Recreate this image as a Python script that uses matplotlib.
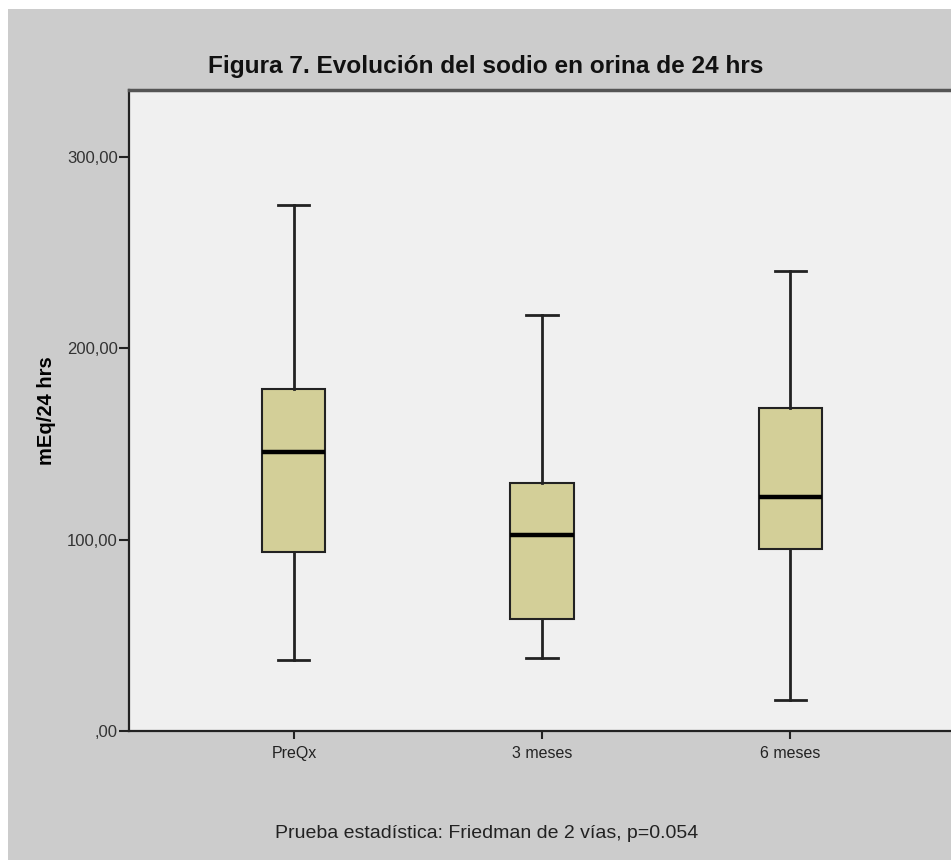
import matplotlib
matplotlib.use("Agg")
import matplotlib.pyplot as plt
from matplotlib.patches import Rectangle

# Five-number summaries of 24 h urinary sodium (mEq/24 hrs)
categories = ["PreQx", "3 meses", "6 meses"]
whisker_low = [37.0, 38.0, 16.0]
q1 = [93.5, 58.5, 95.0]
median = [145.8, 102.5, 122.3]
q3 = [178.8, 129.6, 168.8]
whisker_high = [275.0, 217.5, 240.5]
y_ticks = [0, 100, 200, 300]
y_tick_labels = [",00", "100,00", "200,00", "300,00"]

plt.rcParams["font.family"] = ["Liberation Sans", "DejaVu Sans"]

W, H = 951, 860
fig = plt.figure(figsize=(W / 100, H / 100), dpi=100, facecolor="white")

# gray chart frame behind the plot area
fig.patches.append(Rectangle((8 / W, 0), 1, 1 - 9 / H, transform=fig.transFigure,
                             facecolor="#cccccc", edgecolor="none", zorder=-5))

ax = fig.add_axes([129 / W, 129 / H, 826 / W, 641 / H])
ax.set_zorder(1)
ax.set_facecolor("#f0f0f0")

stats = []
for i, c in enumerate(categories):
    stats.append(dict(label=c, whislo=whisker_low[i], q1=q1[i], med=median[i],
                      q3=q3[i], whishi=whisker_high[i], fliers=[]))

ax.bxp(stats, positions=range(len(categories)), widths=0.254, patch_artist=True,
       showfliers=False,
       boxprops=dict(facecolor="#d3cf98", edgecolor="#222222", linewidth=1.5),
       medianprops=dict(color="black", linewidth=3.2, solid_capstyle="butt"),
       whiskerprops=dict(color="#222222", linewidth=2),
       capprops=dict(color="#222222", linewidth=2),
       capwidths=0.125)

ax.set_xlim(-0.665, 2.665)
ax.set_ylim(0, 335)
ax.set_yticks(y_ticks)
ax.set_yticklabels(y_tick_labels)
ax.set_xticks(range(len(categories)))
ax.set_xticklabels(categories)

ax.tick_params(axis="y", length=7, width=1.5, color="#222222", labelsize=12,
               labelcolor="#333333", pad=1)
ax.tick_params(axis="x", length=6, width=1.5, color="#222222", labelsize=11.5,
               labelcolor="#222222", pad=5)

for side in ["left", "bottom"]:
    ax.spines[side].set_color("#222222")
    ax.spines[side].set_linewidth(1.6)
ax.spines["top"].set_color("#555555")
ax.spines["top"].set_linewidth(2.5)
ax.spines["right"].set_visible(False)

ax.set_ylabel("mEq/24 hrs", fontsize=14.5, fontweight="bold", labelpad=8)

fig.text(486 / W, 1 - 67 / H, "Figura 7. Evolución del sodio en orina de 24 hrs",
         ha="center", va="center", fontsize=17.6, fontweight="bold", color="#111111")
fig.text(487 / W, 1 - 833 / H, "Prueba estadística: Friedman de 2 vías, p=0.054",
         ha="center", va="center", fontsize=14, color="#222222")

fig.savefig("out.png", dpi=100, facecolor="white")
